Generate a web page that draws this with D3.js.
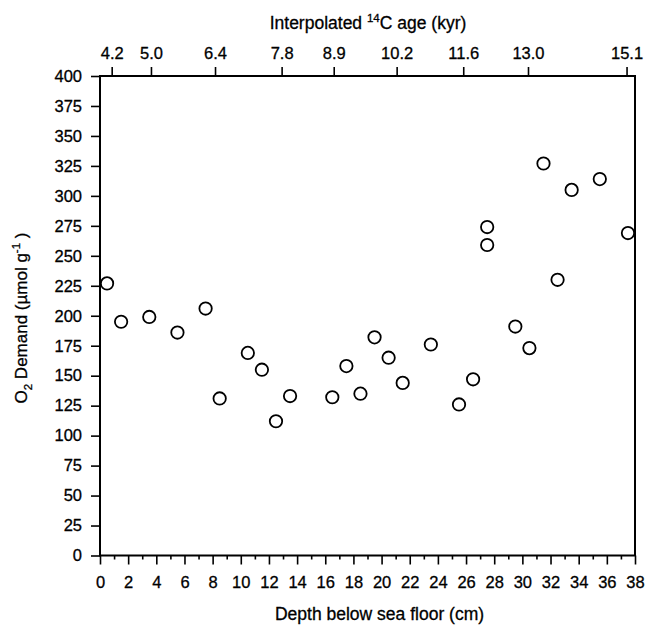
<!DOCTYPE html>
<html>
<head>
<meta charset="utf-8">
<script src="https://cdn.jsdelivr.net/npm/d3@7"></script>
<style>
  body { margin: 0; background: #fff; }
  svg text { font-family: "Liberation Sans", Arial, sans-serif; fill: #000; stroke: #000; stroke-width: 0.3px; }
</style>
</head>
<body>
<svg id="chart" width="645" height="627"></svg>
<script>
// depth (cm) and O2 demand (umol/g)
const depth = [0.5, 1.5, 3.5, 5.5, 7.5, 8.5, 10.5, 11.5, 12.5, 13.5, 16.5, 17.5, 18.5,
  19.5, 20.5, 21.5, 23.5, 25.5, 26.5, 27.5, 27.5, 29.5, 30.5, 31.5, 32.5, 33.5, 35.5, 37.5];
const demand = [227, 195, 199, 186, 206, 131, 169, 155, 112, 133, 132, 158, 135,
  182, 165, 144, 176, 126, 147, 274, 259, 191, 173, 327, 230, 305, 314, 269];

// top axis : interpolated 14C ages and the depth where each one sits
const ageLabels = ["4.2", "5.0", "6.4", "7.8", "8.9", "10.2", "11.6", "13.0", "15.1"];
const ageDepths = [0.83, 3.62, 8.17, 12.9, 16.6, 21.07, 25.8, 30.4, 37.4];

const yTicks = d3.range(0, 401, 25);
const xTicks = d3.range(0, 39, 2);
const xMinor = d3.range(1, 38, 2);

const svg = d3.select('#chart');
const mLeft = 100, mRight = 635, mTop = 76, mBottom = 555.5;

const x = d3.scaleLinear().domain([0, 38]).range([mLeft, mRight]);
const y = d3.scaleLinear().domain([0, 400]).range([mBottom, mTop]);

const fs = 16.5;   // tick labels
const fsT = 17.5;  // titles
const font = '"Liberation Sans", Arial, sans-serif';

// frame
svg.append('rect')
  .attr('x', mLeft).attr('y', mTop)
  .attr('width', mRight - mLeft).attr('height', mBottom - mTop)
  .attr('fill', 'none').attr('stroke', '#000').attr('stroke-width', 2);

function styleAxis(g) {
  g.select('.domain').remove();
  g.selectAll('line').attr('stroke', '#000').attr('stroke-width', 1.6);
  g.selectAll('text').attr('font-size', fs).attr('font-family', font).attr('fill', '#000');
}

// left axis
svg.append('g').attr('transform', `translate(${mLeft},0)`)
  .call(d3.axisLeft(y).tickValues(yTicks).tickSize(9).tickPadding(9))
  .call(styleAxis);

// bottom axis, major + minor ticks
svg.append('g').attr('transform', `translate(0,${mBottom})`)
  .call(d3.axisBottom(x).tickValues(xTicks).tickSize(9).tickPadding(12))
  .call(styleAxis);

svg.append('g').attr('transform', `translate(0,${mBottom})`)
  .call(d3.axisBottom(x).tickValues(xMinor).tickSize(4).tickFormat(''))
  .call(styleAxis);

// top axis (ages)
svg.append('g').attr('transform', `translate(0,${mTop})`)
  .call(d3.axisTop(x).tickValues(ageDepths).tickSize(9).tickPadding(8)
    .tickFormat((d, i) => ageLabels[i]))
  .call(styleAxis);

// titles
const topTitle = svg.append('text')
  .attr('x', 368).attr('y', 29)
  .attr('text-anchor', 'middle').attr('font-size', fsT);
topTitle.append('tspan').text('Interpolated ');
topTitle.append('tspan').text('14').attr('font-size', 11.5).attr('dy', -7);
topTitle.append('tspan').text('C age (kyr)').attr('dy', 7);

svg.append('text')
  .attr('x', (mLeft + mRight) / 2 + 12).attr('y', 620)
  .attr('text-anchor', 'middle').attr('font-size', fsT)
  .text('Depth below sea floor (cm)');

const yTitle = svg.append('text')
  .attr('transform', 'translate(27,318) rotate(-90)')
  .attr('text-anchor', 'middle').attr('font-size', 17);
yTitle.append('tspan').text('O');
yTitle.append('tspan').text('2').attr('font-size', 11.5).attr('dy', 5);
yTitle.append('tspan').text(' Demand (\u00b5mol g').attr('dy', -5);
yTitle.append('tspan').text('-1').attr('font-size', 11.5).attr('dy', -7);
yTitle.append('tspan').text(' )').attr('dy', 7);

// points
svg.append('g').selectAll('circle')
  .data(depth.map((d, i) => ({ d, v: demand[i] })))
  .join('circle')
  .attr('cx', p => x(p.d))
  .attr('cy', p => y(p.v))
  .attr('r', 6.2)
  .attr('fill', '#fff')
  .attr('stroke', '#000')
  .attr('stroke-width', 1.8);
</script>
</body>
</html>
